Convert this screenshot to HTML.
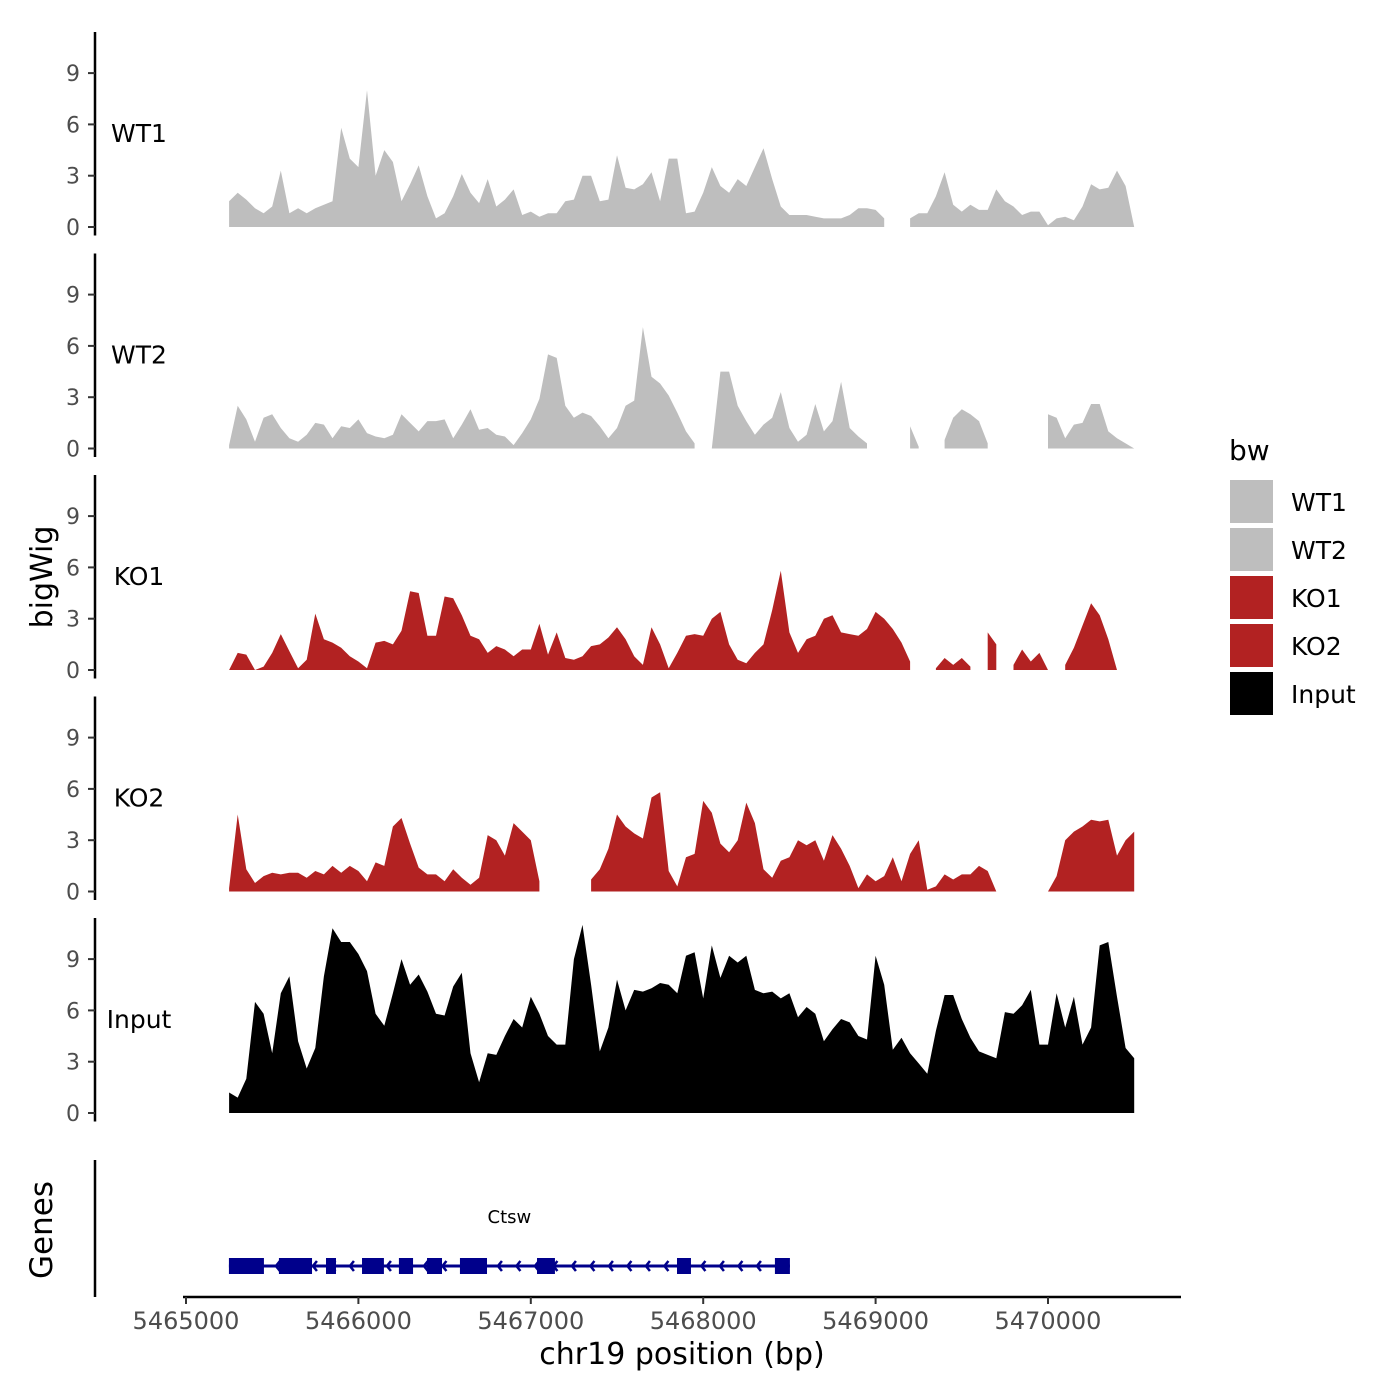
<!DOCTYPE html>
<html><head><meta charset="utf-8"><style>
html,body{margin:0;padding:0;background:#fff;}
svg{display:block;font-family:"DejaVu Sans","Liberation Sans",sans-serif;}
</style></head><body>
<svg id="chart" width="1400" height="1400" viewBox="0 0 1400 1400">
<rect width="1400" height="1400" fill="#fff"/>
<g id="tracks"></g>
<g id="genes"></g>
<text x="52" y="577" font-size="30" text-anchor="middle" transform="rotate(-90 52 577)">bigWig</text>
<text x="52" y="1230" font-size="31" text-anchor="middle" transform="rotate(-90 52 1230)">Genes</text>
<text x="682" y="1364" font-size="30" text-anchor="middle">chr19 position (bp)</text>
<g id="legend">
<text x="1229" y="460" font-size="28">bw</text>
</g>
</svg>
<script>
const startBp = 5465250;
const stepBp = 50;
const trackNames = ["WT1","WT2","KO1","KO2","Input"];
const trackColors = ["#bebebe","#bebebe","#b22222","#b22222","#000000"];
const yTicks = [0,3,6,9];
const xTicks = [5465000,5466000,5467000,5468000,5469000,5470000];
const xTickLabels = ["5465000","5466000","5467000","5468000","5469000","5470000"];
const N = null;
const wt1 = [1.5,2.0,1.6,1.1,0.8,1.2,3.3,0.8,1.1,0.8,1.1,1.3,1.5,5.8,4,3.5,8,3,4.5,3.8,1.5,2.5,3.6,1.8,0.5,0.8,1.8,3.1,2,1.4,2.8,1.2,1.6,2.2,0.7,0.9,0.6,0.8,0.8,1.5,1.6,3,3,1.5,1.6,4.2,2.3,2.2,2.5,3.2,1.5,4,4,0.8,0.9,2,3.5,2.4,2,2.8,2.4,3.5,4.6,2.8,1.2,0.7,0.7,0.7,0.6,0.5,0.5,0.5,0.7,1.1,1.1,1,0.5,N,N,0.5,0.8,0.8,1.8,3.2,1.3,0.9,1.3,1,1,2.2,1.5,1.2,0.7,0.9,0.9,0.1,0.5,0.6,0.4,1.2,2.5,2.2,2.3,3.3,2.4,0];
const wt2 = [0.2,2.5,1.7,0.4,1.8,2,1.2,0.6,0.4,0.8,1.5,1.4,0.6,1.3,1.2,1.7,0.9,0.7,0.6,0.8,2,1.5,1,1.6,1.6,1.7,0.6,1.4,2.3,1.1,1.2,0.8,0.7,0.2,0.9,1.7,2.9,5.5,5.3,2.5,1.8,2.1,1.9,1.3,0.6,1.2,2.5,2.8,7.1,4.2,3.8,3.1,2.1,1,0.3,N,0,4.5,4.5,2.5,1.6,0.8,1.4,1.8,3.3,1.2,0.4,0.8,2.6,1,1.6,3.9,1.2,0.7,0.3,N,N,N,N,1.3,0.1,N,N,0.5,1.8,2.3,2,1.6,0.3,N,N,N,N,N,N,2,1.8,0.6,1.4,1.5,2.6,2.6,1,0.6,0.3,0];
const ko1 = [0,1,0.9,0,0.2,1,2.1,1.1,0.1,0.6,3.3,1.8,1.6,1.3,0.8,0.5,0.1,1.6,1.7,1.5,2.3,4.6,4.5,2,2,4.3,4.2,3.2,2,1.8,1,1.4,1.2,0.8,1.2,1.2,2.7,0.9,2.2,0.7,0.6,0.8,1.4,1.5,1.9,2.5,1.8,0.8,0.3,2.5,1.5,0.1,1,2,2.1,2,3,3.4,1.5,0.6,0.4,1,1.5,3.5,5.8,2.2,1,1.8,2,3,3.2,2.2,2.1,2,2.4,3.4,3,2.4,1.6,0.5,N,N,0.1,0.7,0.3,0.7,0.2,N,2.2,1.5,N,0.3,1.2,0.5,1,0,N,0.3,1.3,2.6,3.9,3.2,1.8,0,N,1];
const ko2 = [0.2,4.5,1.3,0.5,0.9,1.1,1,1.1,1.1,0.8,1.2,1,1.5,1.1,1.5,1.2,0.6,1.7,1.5,3.8,4.3,2.8,1.4,1,1,0.6,1.3,0.8,0.4,0.8,3.3,3,2.1,4,3.5,3,0.6,N,N,N,N,N,0.7,1.3,2.5,4.5,3.8,3.4,3.1,5.5,5.8,1.2,0.3,2,2.2,5.3,4.6,2.8,2.3,3,5.2,4,1.3,0.8,1.8,2,3,2.7,3,1.8,3.3,2.5,1.5,0.2,1,0.6,0.9,2,0.6,2.2,3,0.1,0.3,1,0.7,1,1,1.5,1.2,0,N,N,N,N,N,0,0.9,3,3.5,3.8,4.2,4.1,4.2,2.1,3,3.5];
const input = [1.2,0.9,2,6.5,5.8,3.5,7,8,4.2,2.6,3.8,8,10.8,10,10,9.3,8.3,5.8,5.1,7,9,7.5,8.1,7.1,5.8,5.7,7.4,8.2,3.5,1.8,3.5,3.4,4.5,5.5,5,6.8,5.8,4.5,4,4,9,11,7.5,3.6,5,7.8,6,7.2,7.1,7.3,7.6,7.5,7,9.2,9.4,6.7,9.8,7.9,9.2,8.8,9.2,7.2,7,7.1,6.7,7,5.6,6.2,5.8,4.2,4.9,5.5,5.3,4.5,4.3,9.2,7.5,3.7,4.4,3.5,2.9,2.3,4.8,6.9,6.9,5.5,4.4,3.6,3.4,3.2,5.9,5.8,6.3,7.2,4,4,7,5,6.8,4,5,9.8,10,6.8,3.8,3.2];
const trackValues = [wt1,wt2,ko1,ko2,input];
const exonStarts = [5465249,5465539,5465812,5466021,5466235,5466398,5466589,5467036,5467848,5468416];
const exonEnds   = [5465452,5465731,5465870,5466148,5466317,5466485,5466746,5467140,5467929,5468503];
const geneStart = 5465249, geneEnd = 5468503, geneName = "Ctsw";

const NS = "http://www.w3.org/2000/svg";
function mk(tag, attrs, parent){const e=document.createElementNS(NS,tag);for(const k in attrs)e.setAttribute(k,attrs[k]);parent.appendChild(e);return e;}
function xs(bp){return 186 + (bp-5465000)*0.1724;}
const unit = 17.1, panelGap = 221.5, zero0 = 227;
function ys(v, p){return zero0 + p*panelGap - v*unit;}

const tg = document.getElementById('tracks');
trackNames.forEach((name,p)=>{
  const g = mk('g',{},tg);
  
  
  const vals = trackValues[p];
  let seg=[];
  const segs=[];
  vals.forEach((v,i)=>{ if(v===null){ if(seg.length){segs.push(seg);seg=[];} } else seg.push([startBp+i*stepBp, v]); });
  if(seg.length) segs.push(seg);
  segs.forEach(s=>{
    let d = 'M'+xs(s[0][0]).toFixed(1)+','+ys(0,p).toFixed(1);
    s.forEach(pt=>{ d += 'L'+xs(pt[0]).toFixed(1)+','+ys(pt[1],p).toFixed(1); });
    d += 'L'+xs(s[s.length-1][0]).toFixed(1)+','+ys(0,p).toFixed(1)+'Z';
    const a = mk('path',{d:d, fill:trackColors[p]},g);
    
    
  });
  const top = ys(11.4,p), bot = ys(-0.5,p);
  const ax = mk('line',{x1:95,x2:95,y1:top,y2:bot,stroke:'#000','stroke-width':2.5},g);
  
  
  yTicks.forEach(t=>{
    const y = ys(t,p);
    const tk = mk('line',{x1:88,x2:95,y1:y,y2:y,stroke:'#333','stroke-width':2},g);
    
    
    const tl = mk('text',{x:80,y:y+8,'font-size':22,fill:'#4d4d4d','text-anchor':'end'},g);
    tl.textContent = t;
    
    
  });
  const lb = mk('text',{x:139,y:ys(5.5,p)+9,'font-size':25,'text-anchor':'middle'},g);
  lb.textContent = name;
  
  
});

const gg = document.getElementById('genes');
const gy = 1266;
const gax = mk('line',{x1:95,x2:95,y1:1160,y2:1297,stroke:'#000','stroke-width':2.5},gg);


const xax = mk('line',{x1:186-3,x2:1181,y1:1297,y2:1297,stroke:'#000','stroke-width':2.5},gg);


xTicks.forEach((t,i)=>{
  const x = xs(t);
  const tk = mk('line',{x1:x,x2:x,y1:1297,y2:1304,stroke:'#333','stroke-width':2},gg);
  
  
  const tl = mk('text',{x:x,y:1329,'font-size':24,fill:'#4d4d4d','text-anchor':'middle'},gg);
  tl.textContent = xTickLabels[i];
  
  
});
const gl = mk('line',{x1:xs(geneStart),x2:xs(geneEnd),y1:gy,y2:gy,stroke:'#00008b','stroke-width':3},gg);


for(let x=xs(geneStart)+10; x<xs(geneEnd)-5; x+=18.5){
  const ch = mk('path',{d:'M'+(x+4)+','+(gy-5)+'L'+x+','+gy+'L'+(x+4)+','+(gy+5),stroke:'#00008b','stroke-width':2.5,fill:'none'},gg);
  
  
}
exonStarts.forEach((s,i)=>{
  const r = mk('rect',{x:xs(s),y:gy-8,width:xs(exonEnds[i])-xs(s),height:16,fill:'#00008b'},gg);
  
  
});
const gn = mk('text',{x:(xs(geneStart)+xs(geneEnd))/2,y:1223,'font-size':18,'text-anchor':'middle'},gg);
gn.textContent = geneName;



const lg = document.getElementById('legend');
trackNames.forEach((name,i)=>{
  const y = 480 + i*48;
  const r = mk('rect',{x:1230,y:y,width:43,height:43,fill:trackColors[i]},lg);
  
  
  const t = mk('text',{x:1291,y:y+31,'font-size':25},lg);
  t.textContent = name;
  
  
});
</script>
</body></html>
